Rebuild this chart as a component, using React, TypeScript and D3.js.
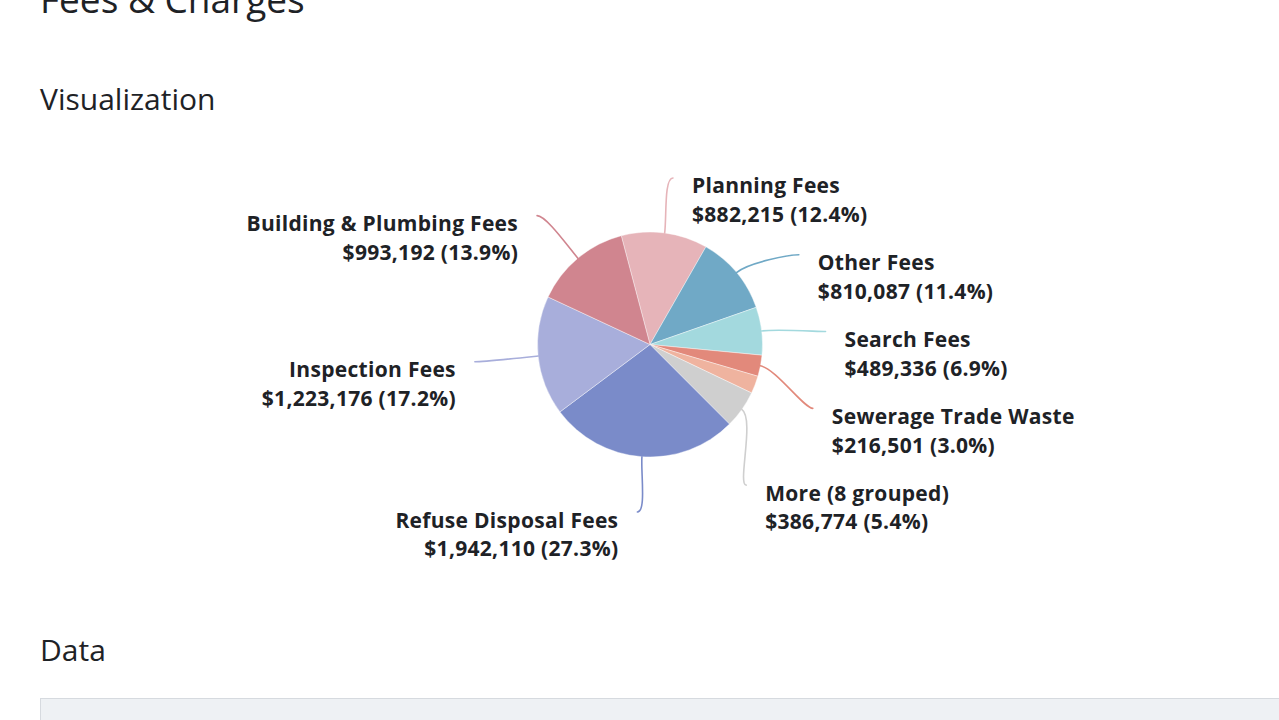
import React, { useMemo } from "react";
import * as d3 from "d3";

// ---- data ----
const categories = [
  "Planning Fees",
  "Other Fees",
  "Search Fees",
  "Sewerage Trade Waste",
  "Unlabelled",
  "More (8 grouped)",
  "Refuse Disposal Fees",
  "Inspection Fees",
  "Building & Plumbing Fees",
];
const values = [882215, 810087, 489336, 216501, 180000, 386774, 1942110, 1223176, 993192];
const showLabel = [true, true, true, true, false, true, true, true, true];
const colors = [
  "#e6b4b9",
  "#70a9c6",
  "#a3d9de",
  "#e2897b",
  "#efb39f",
  "#cfcfcf",
  "#7a8bc9",
  "#a8aedb",
  "#d0858f",
];

const W = 1279;
const H = 720;
const CX = 650;
const CY = 344.5;
const R = 112.5;
const START_DEG = -14.8;

const FONT = "'Open Sans', 'Noto Sans', sans-serif";
const TEXT = "#1e2226";

export default function App() {
  const layout = useMemo(() => {
    const total = d3.sum(values);
    const pie = d3
      .pie<number>()
      .sort(null)
      .value((d) => d)
      .startAngle((START_DEG * Math.PI) / 180)
      .endAngle((START_DEG * Math.PI) / 180 + 2 * Math.PI);
    const arcs = pie(values);
    const arcGen = d3.arc<d3.PieArcDatum<number>>().innerRadius(0).outerRadius(R);

    const rx = R * 1.565;
    const ry = R * 1.493;
    const spacing = 76.8;

    type L = { i: number; mid: number; side: number; y0: number; y: number; x: number };
    const labels: L[] = arcs
      .map((a, i) => {
        const mid = (a.startAngle + a.endAngle) / 2;
        const side = Math.sin(mid) >= 0 ? 1 : -1;
        const y0 = CY - ry * Math.cos(mid);
        return { i, mid, side, y0, y: y0, x: 0 };
      })
      .filter((l) => showLabel[l.i]);

    [1, -1].forEach((side) => {
      const group = labels.filter((l) => l.side === side).sort((a, b) => a.y0 - b.y0);
      group.forEach((l, k) => {
        l.y = k === 0 ? l.y0 : Math.max(l.y0, group[k - 1].y + spacing);
      });
    });
    labels.forEach((l) => {
      const t = Math.min(1, Math.abs((l.y - CY) / ry));
      l.x = CX + l.side * rx * Math.sqrt(1 - t * t);
    });

    const fmtMoney = d3.format("$,");
    const fmtPct = d3.format(".1%");

    const items = labels.map((l) => {
      const p0x = CX + R * Math.sin(l.mid);
      const p0y = CY - R * Math.cos(l.mid);
      const c = R + 16;
      const c1x = CX + c * Math.sin(l.mid);
      const c1y = CY - c * Math.cos(l.mid);
      const c2x = l.x - l.side * 9;
      const c2y = l.y;
      const p = d3.path();
      p.moveTo(p0x, p0y);
      p.bezierCurveTo(c1x, c1y, c2x, c2y, l.x, l.y);
      return {
        key: categories[l.i],
        path: p.toString(),
        color: colors[l.i],
        tx: l.x + l.side * 19,
        ty: l.y + 15.5,
        anchor: l.side > 0 ? "start" : "end",
        name: categories[l.i],
        value: `${fmtMoney(values[l.i])} (${fmtPct(values[l.i] / total)})`,
      };
    });

    return {
      slices: arcs.map((a, i) => ({ d: arcGen(a) as string, color: colors[i], key: categories[i] })),
      items,
    };
  }, []);

  return (
    <svg
      width={W}
      height={H}
      style={{ position: "fixed", left: 0, top: 0, background: "#ffffff" }}
    >
      <rect x={0} y={0} width={W} height={H} fill="#ffffff" />
      <text x={40} y={13} fontFamily={FONT} fontSize={37} fontWeight={500} fill={TEXT}>
        Fees &amp; Charges
      </text>
      <text x={40} y={110} fontFamily={FONT} fontSize={30} fontWeight={500} fill={TEXT}>
        Visualization
      </text>
      <text x={40} y={661} fontFamily={FONT} fontSize={30} fontWeight={500} fill={TEXT}>
        Data
      </text>
      <rect x={40.5} y={698.5} width={W} height={40} fill="#eef1f4" stroke="#d6dadf" strokeWidth={1} />

      <g transform={`translate(${CX},${CY})`}>
        {layout.slices.map((s) => (
          <path key={s.key} d={s.d} fill={s.color} stroke="#ffffff" strokeWidth={0.4} />
        ))}
      </g>
      <g>
        {layout.items.map((it) => (
          <g key={it.key}>
            <path d={it.path} fill="none" stroke={it.color} strokeWidth={1.6} strokeLinecap="round" />
            <text
              x={it.tx}
              y={it.ty}
              textAnchor={it.anchor}
              fontFamily={FONT}
              fontSize={21}
              fontWeight={700}
              letterSpacing={0.3}
              fill={TEXT}
            >
              <tspan x={it.tx} y={it.ty}>{it.name}</tspan>
              <tspan x={it.tx} y={it.ty + 28.7}>{it.value}</tspan>
            </text>
          </g>
        ))}
      </g>
    </svg>
  );
}
